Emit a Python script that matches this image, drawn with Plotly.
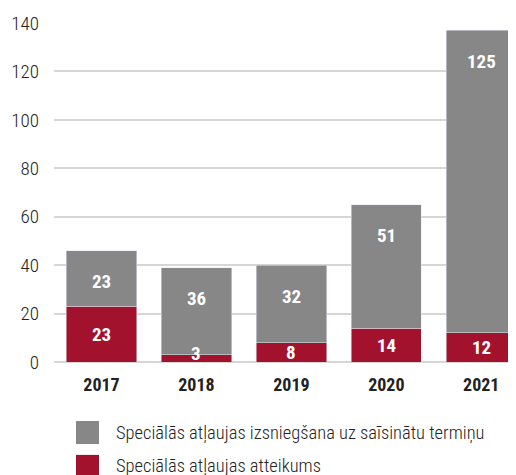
import plotly.graph_objects as go

years = ["2017", "2018", "2019", "2020", "2021"]
refused = [23, 3, 8, 14, 12]
shortened = [23, 36, 32, 51, 125]
names = ["Speciālās atļaujas izsniegšana uz saīsinātu termiņu",
         "Speciālās atļaujas atteikums"]
y_ticks = [0, 20, 40, 60, 80, 100, 120, 140]

GRAY = "#878787"
RED = "#a3122c"
FONT = "Roboto Condensed, sans-serif"
LABEL_FONT = dict(color="white", size=19, family=FONT, weight="bold")

fig = go.Figure()
fig.add_trace(go.Bar(x=years, y=refused, name=names[1], marker_color=RED))
fig.add_trace(go.Bar(x=years, y=shortened, name=names[0], marker_color=GRAY))

# value labels: red ones centred in the segment, gray ones near the bar top
totals = [a + b for a, b in zip(refused, shortened)]
for i, (r, s, tot) in enumerate(zip(refused, shortened, totals)):
    fig.add_annotation(x=i, y=max(r / 2, 3.5), text=str(r), showarrow=False,
                       yanchor="middle", font=LABEL_FONT)
    fig.add_annotation(x=i, y=tot, text=str(s), showarrow=False,
                       yshift=-31, yanchor="middle", font=LABEL_FONT)

# legend drawn by hand (big square swatches)
for i, (nm, col) in enumerate(zip(names, [GRAY, RED])):
    y0 = -0.174 - i * 0.1
    fig.add_shape(type="rect", xref="paper", yref="paper", x0=0.0468, x1=0.0957,
                  y0=y0, y1=y0 - 0.068, fillcolor=col, line_width=0)
    fig.add_annotation(xref="paper", yref="paper", x=0.128, y=y0 - 0.034,
                       xanchor="left", yanchor="middle", text=nm, showarrow=False,
                       font=dict(size=18.5, family=FONT, color="#222", weight=300))

fig.update_layout(
    barmode="stack", bargap=0.26, showlegend=False,
    width=516, height=475,
    margin=dict(l=46, r=0, t=15, b=121),
    plot_bgcolor="white", paper_bgcolor="white",
    font=dict(family=FONT, size=18, color="#222"),
)
fig.update_xaxes(type="category", range=[-0.5, 4.45], showgrid=False, ticks="",
                 ticklabelstandoff=10, tickfont=dict(size=18, weight="bold"), showline=False)
fig.update_yaxes(range=[0, 140], tickvals=y_ticks, gridcolor="#d6d6d6", gridwidth=1.5,
                 zeroline=True, zerolinecolor="#d6d6d6", zerolinewidth=1.5,
                 ticklabelstandoff=14, showline=False, tickfont=dict(size=19, weight=300))

fig.write_html("out.html")
